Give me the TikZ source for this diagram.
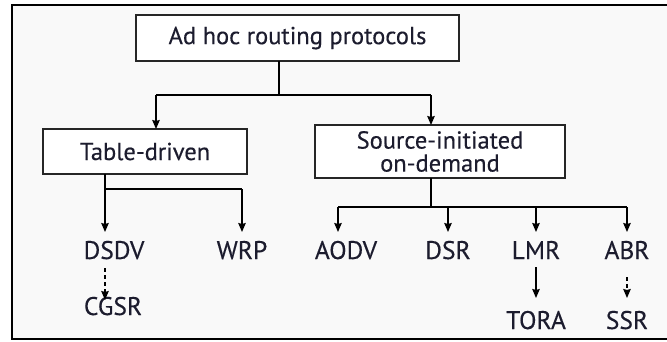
\documentclass[tikz,border=0pt]{standalone}
\usepackage{fontspec}
\setmainfont{PT Sans}[FakeBold=0.3]
\usetikzlibrary{arrows.meta}
\definecolor{ink}{RGB}{28,28,46}
\definecolor{bg}{RGB}{249,249,249}
\tikzset{
  boxnode/.style={draw=black!85, line width=1.8pt, fill=white, text=ink, inner sep=0pt, outer sep=0pt,
    font=\fontsize{24.5}{23}\selectfont, align=center},
  leaf/.style={text=ink, inner xsep=0pt, inner ysep=11pt, outer sep=0pt, text height=16pt, text depth=0pt,
    font=\fontsize{25.5}{23}\selectfont},
  conn/.style={draw=black, line width=1.4pt},
  arr/.style={conn, -{Stealth[length=9pt,width=7.5pt,inset=1pt]}},
  dasharr/.style={arr, dash pattern=on 4pt off 3pt}
}
\begin{document}
\begin{tikzpicture}[x=1pt,y=-1pt]
\useasboundingbox (0,0) rectangle (667,341);
\clip (0,0) rectangle (667,341);
\fill[white] (0,0) rectangle (667,341);
\fill[bg] (12,5) rectangle (672,339);
\draw[line width=2.5pt] (12,5) rectangle (672,339);

\node[boxnode, minimum width=323pt, minimum height=46pt] (top) at (297.5,38) {Ad hoc routing protocols};
\node[boxnode, minimum width=204pt, minimum height=45pt] (tab) at (145,151.5) {Table-driven};
\node[boxnode, minimum width=250pt, minimum height=53pt] (src) at (440,151.5) {Source-initiated\\on-demand};

\node[leaf] (dsdv) at (114,251) {DSDV};
\node[leaf] (wrp) at (242,251) {WRP};
\node[leaf] (aodv) at (346,251) {AODV};
\node[leaf] (dsr) at (448,251) {DSR};
\node[leaf] (lmr) at (536,251) {LMR};
\node[leaf] (abr) at (627,251) {ABR};
\node[leaf] (cgsr) at (113,307) {CGSR};
\node[leaf] (tora) at (536,321) {TORA};
\node[leaf] (ssr) at (627,321) {SSR};

% top level
\coordinate (j0) at (279,95);
\coordinate (aL) at (156,95);
\coordinate (aR) at (431,95);
\draw[conn] (top.south -| j0) -- (j0);
\draw[conn] (aL) -- (aR);
\draw[arr] (aL) -- (aL |- tab.north);
\draw[arr] (aR) -- (aR |- src.north);

% table-driven
\coordinate (b1) at (105,189);
\coordinate (b2) at (242,189);
\draw[conn] (b1 |- tab.south) -- (b1) -- (b2);
\draw[arr] (b1) -- (b1 |- dsdv.north);
\draw[arr] (b2) -- (b2 |- wrp.north);
\draw[dasharr] ([yshift=2pt]dsdv.south -| b1) -- ([yshift=-12pt]cgsr.north -| b1);

% source-initiated
\coordinate (cs) at (431,207);
\coordinate (c1) at (338,207);
\draw[conn] (src.south -| cs) -- (cs);
\draw[conn] (c1) -- (abr.north |- cs);
\draw[arr] (c1) -- (c1 |- aodv.north);
\draw[arr] (dsr.north |- cs) -- (dsr.north);
\draw[arr] (lmr.north |- cs) -- (lmr.north);
\draw[arr] (abr.north |- cs) -- (abr.north);
\draw[arr] ([yshift=3pt]lmr.south) -- ([yshift=4pt]tora.north);
\draw[dasharr] ([yshift=-7pt]abr.south) -- ([yshift=4pt]ssr.north);
\end{tikzpicture}
\end{document}
